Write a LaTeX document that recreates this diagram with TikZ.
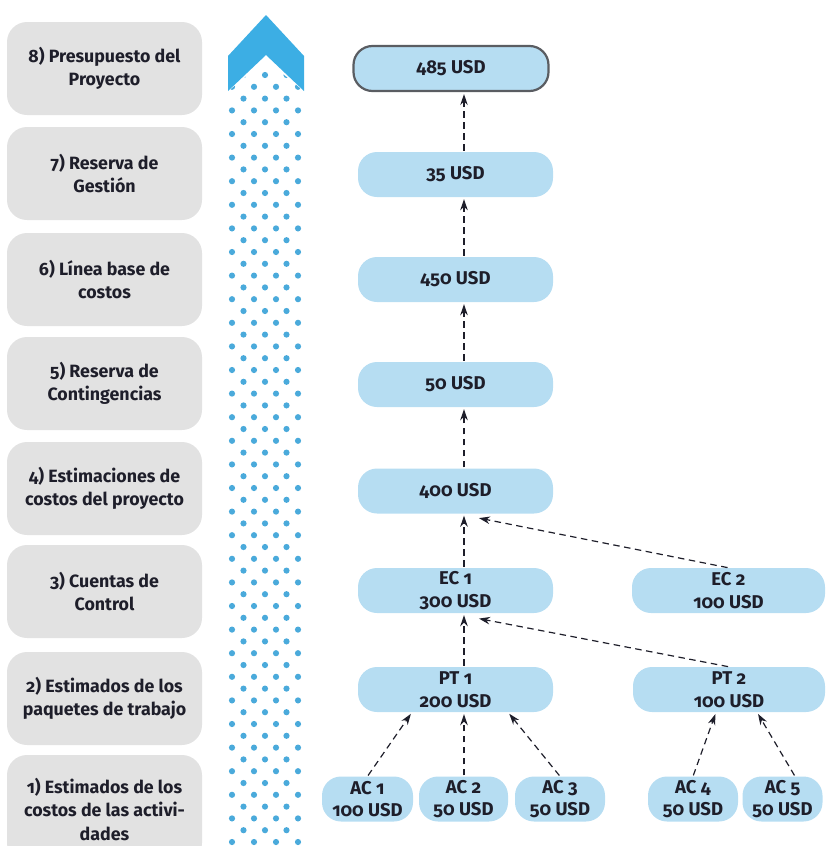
\documentclass[tikz,border=0pt]{standalone}
\usepackage{fontspec}
\setmainfont{Fira Sans}[Numbers=OldStyle]
\usetikzlibrary{arrows.meta}
\definecolor{txt}{HTML}{1E1E2A}
\definecolor{grayfill}{HTML}{E2E2E2}
\definecolor{bluefill}{HTML}{B6DDF2}
\definecolor{chev}{HTML}{3CAEE4}
\definecolor{dotc}{HTML}{4AAADB}
\definecolor{border}{HTML}{5A5D62}
\tikzset{
  x=1pt, y=-1pt,
  graybox/.style={rectangle, rounded corners=20pt, fill=grayfill, minimum width=195pt, minimum height=93pt,
    align=center, font=\fontsize{17.8}{23.5}\selectfont\bfseries, text=txt, inner sep=0pt},
  bluebox/.style={rectangle, rounded corners=19pt, fill=bluefill, minimum width=195pt, minimum height=45pt,
    align=center, font=\fontsize{18.5}{22.5}\selectfont\bfseries, text=txt, inner sep=0pt},
  arr/.style={draw=txt, line width=1.2pt, dash pattern=on 6.5pt off 4.5pt, -{Stealth[length=11pt,width=7.5pt]}, shorten <=1pt, shorten >=2pt}
}
\begin{document}
\begin{tikzpicture}
\useasboundingbox (0,0) rectangle (825,846);
% left gray boxes
\node[graybox] (g8) at (104.5,68.5) {8) Presupuesto del\\Proyecto};
\node[graybox] (g7) at (104.5,173.5) {7) Reserva de\\Gestión};
\node[graybox] (g6) at (104.5,279.5) {6) Línea base de\\costos};
\node[graybox] (g5) at (104.5,383.5) {5) Reserva de\\Contingencias};
\node[graybox] (g4) at (104.5,488.5) {4) Estimaciones de\\costos del proyecto};
\node[graybox] (g3) at (104.5,591.5) {3) Cuentas de\\Control};
\node[graybox] (g2) at (104.5,698.5) {2) Estimados de los\\paquetes de trabajo};
\node[graybox, minimum height=108pt] (g1) at (104.5,809) {1) Estimados de los\\costos de las activi-\\dades};
% chevron
\fill[chev] (266,15) -- (304,56) -- (304,91) -- (266,55) -- (228,91) -- (228,56) -- cycle;
% dots
\begin{scope}
\clip (226,93) -- (266,60) -- (306,93) -- (306,860) -- (226,860) -- cycle;
\foreach \k in {0,...,67}{
  \pgfmathtruncatemacro\rowpar{mod(\k,2)}
  \pgfmathsetmacro\yy{75+\k*11.8}
  \ifnum\rowpar=0
    \foreach \xx in {243.5,265,286.5} \fill[dotc] (\xx,\yy) circle (3.1pt);
  \else
    \foreach \xx in {232,254,276,298} \fill[dotc] (\xx,\yy) circle (3.1pt);
  \fi
}
\end{scope}
% blue boxes
\node[bluebox, draw=border, line width=2.2pt, minimum width=195pt] (n485) at (451,68.5) {485 USD};
\node[bluebox] (n35) at (455.5,174.5) {35 USD};
\node[bluebox] (n450) at (455.5,279.5) {450 USD};
\node[bluebox] (n50) at (455.5,384.5) {50 USD};
\node[bluebox] (n400) at (455.5,491) {400 USD};
\node[bluebox] (ec1) at (455.5,590.5) {EC 1\\300 USD};
\node[bluebox, minimum width=193pt] (ec2) at (728.5,590.5) {EC 2\\100 USD};
\node[bluebox] (pt1) at (455.5,689.5) {PT 1\\200 USD};
\node[bluebox, minimum width=192pt] (pt2) at (729,689.5) {PT 2\\100 USD};
\node[bluebox, minimum width=91pt] (ac1) at (367.5,799) {AC 1\\100 USD};
\node[bluebox, minimum width=89pt] (ac2) at (463.5,799) {AC 2\\50 USD};
\node[bluebox, minimum width=90pt] (ac3) at (560,799) {AC 3\\50 USD};
\node[bluebox, minimum width=90pt] (ac4) at (693,799) {AC 4\\50 USD};
\node[bluebox, minimum width=80pt] (ac5) at (782.5,799) {AC 5\\50 USD};
% arrows
\draw[arr] ([xshift=8.5pt]n35.north) -- ([xshift=13pt]n485.south);
\draw[arr] ([xshift=8.5pt]n450.north) -- ([xshift=8.5pt]n35.south);
\draw[arr] ([xshift=8.5pt]n50.north) -- ([xshift=8.5pt]n450.south);
\draw[arr] ([xshift=8.5pt]n400.north) -- ([xshift=8.5pt]n50.south);
\draw[arr] ([xshift=8.5pt]ec1.north) -- ([xshift=8.5pt]n400.south);
\draw[arr] (ec2.north) -- ([xshift=21.5pt,yshift=-4pt]n400.south);
\draw[arr] ([xshift=8.5pt]pt1.north) -- ([xshift=8.5pt]ec1.south);
\draw[arr] (pt2.north) -- ([xshift=21.5pt,yshift=-5pt]ec1.south);
\draw[arr] (ac1.north) -- ([xshift=-43.5pt]pt1.south);
\draw[arr] ([xshift=0.5pt]ac2.north) -- ([xshift=8.5pt]pt1.south);
\draw[arr] (ac3.north) -- ([xshift=52.5pt]pt1.south);
\draw[arr] (ac4.north) -- ([xshift=-13pt]pt2.south);
\draw[arr] ([xshift=12.5pt]ac5.north) -- ([xshift=28pt]pt2.south);
\end{tikzpicture}
\end{document}
